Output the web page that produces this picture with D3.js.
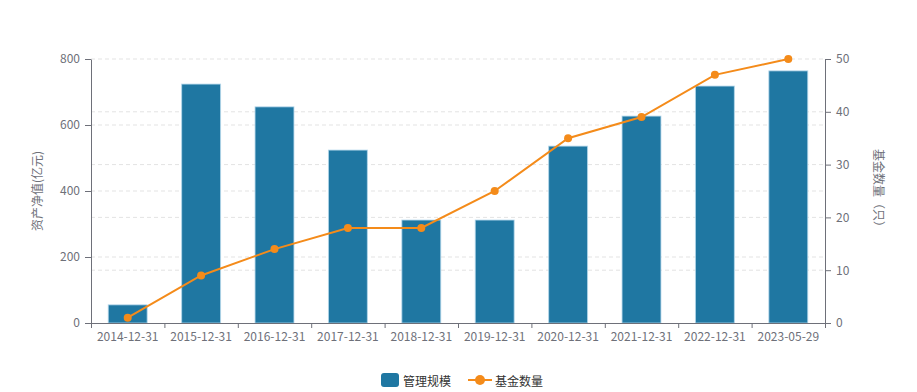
<!DOCTYPE html>
<html>
<head>
<meta charset="utf-8">
<script src="https://cdn.jsdelivr.net/npm/d3@7"></script>
<style>
body { margin: 0; background: #fff; font-family: "Noto Sans CJK SC", "Noto Sans", sans-serif; }
</style>
</head>
<body>
<div id="chart"></div>
<script>
const width = 917;
const height = 392;

const margin = { top: 59, left: 91, bottom: 69, right: 92 };

// data
const dates = ["2014-12-31", "2015-12-31", "2016-12-31", "2017-12-31", "2018-12-31",
    "2019-12-31", "2020-12-31", "2021-12-31", "2022-12-31", "2023-05-29"];
const scaleValues = [55, 724, 655, 524, 312, 312, 536, 627, 718, 764]; // 管理规模 (亿元)
const fundCounts = [1, 9, 14, 18, 18, 25, 35, 39, 47, 50]; // 基金数量 (只)
const leftTicks = [0, 200, 400, 600, 800];
const rightTicks = [0, 10, 20, 30, 40, 50];

const barColor = "#1f77a2";
const lineColor = "#f48b1a";
const axisColor = "#6e7079";

const innerW = width - margin.left - margin.right;
const innerH = height - margin.top - margin.bottom;

const svg = d3.select("#chart").append("svg").attr("width", width).attr("height", height);
const g = svg.append("g").attr("transform", `translate(${margin.left},${margin.top})`);

const xScale = d3.scaleBand().domain(dates).range([0, innerW]).paddingInner(0.47).paddingOuter(0.235);
const xBand = d3.scaleBand().domain(dates).range([0, innerW]);
const yLeft = d3.scaleLinear().domain([0, 800]).range([innerH, 0]);
const yRight = d3.scaleLinear().domain([0, 50]).range([innerH, 0]);

// dashed grid lines
g.append("g").selectAll("line").data(leftTicks.slice(1)).join("line")
    .attr("x1", 0).attr("x2", innerW)
    .attr("y1", d => yLeft(d)).attr("y2", d => yLeft(d))
    .attr("stroke", "#e3e3e3").attr("stroke-dasharray", "4,3");
g.append("g").selectAll("line").data(rightTicks.slice(1, -1)).join("line")
    .attr("x1", 0).attr("x2", innerW)
    .attr("y1", d => yRight(d)).attr("y2", d => yRight(d))
    .attr("stroke", "#e3e3e3").attr("stroke-dasharray", "4,3");

// bars
g.append("g").selectAll("rect").data(dates).join("rect")
    .attr("x", d => xScale(d))
    .attr("width", xScale.bandwidth())
    .attr("y", (d, i) => yLeft(scaleValues[i]))
    .attr("height", (d, i) => innerH - yLeft(scaleValues[i]))
    .attr("fill", barColor)
    .attr("stroke", "rgba(180,215,235,0.8)")
    .attr("stroke-width", 1);

// axes
function styleAxis(sel) {
    sel.selectAll("path, line").attr("stroke", axisColor);
    sel.selectAll("text").attr("fill", axisColor).style("font-size", "12px")
        .style("font-family", "'Noto Sans CJK SC', 'Noto Sans', sans-serif");
}

const xAxis = d3.axisBottom(xBand).tickSize(0).tickPadding(9);
const xg = g.append("g").attr("transform", `translate(0,${innerH})`).call(xAxis).call(styleAxis);
xg.select(".domain").attr("d", `M0.5,0.5H${innerW + 0.5}`);
// boundary ticks
xg.append("g").selectAll("line").data(d3.range(dates.length + 1)).join("line")
    .attr("x1", i => i * xBand.step() + 0.5).attr("x2", i => i * xBand.step() + 0.5)
    .attr("y1", 0).attr("y2", 5).attr("stroke", axisColor);

const lg = g.append("g").call(d3.axisLeft(yLeft).tickValues(leftTicks).tickSizeOuter(0).tickPadding(5)).call(styleAxis);
const rg = g.append("g").attr("transform", `translate(${innerW},0)`)
    .call(d3.axisRight(yRight).tickValues(rightTicks).tickSizeOuter(0).tickPadding(5)).call(styleAxis);

// line
const lineGen = d3.line().x((d, i) => xBand(dates[i]) + xBand.bandwidth() / 2).y(d => yRight(d));
g.append("path").datum(fundCounts)
    .attr("fill", "none").attr("stroke", lineColor).attr("stroke-width", 2)
    .attr("d", lineGen);
g.append("g").selectAll("circle").data(fundCounts).join("circle")
    .attr("cx", (d, i) => xBand(dates[i]) + xBand.bandwidth() / 2)
    .attr("cy", d => yRight(d))
    .attr("r", 4)
    .attr("fill", lineColor);

// axis titles
svg.append("text")
    .attr("transform", `translate(39,${margin.top + innerH / 2}) rotate(-90)`)
    .attr("text-anchor", "middle").attr("dominant-baseline", "middle")
    .attr("fill", axisColor).style("font-size", "12px")
    .text("资产净值(亿元)");
svg.append("text")
    .attr("transform", `translate(877,${margin.top + innerH / 2}) rotate(90)`)
    .attr("text-anchor", "middle").attr("dominant-baseline", "middle")
    .attr("fill", axisColor).style("font-size", "12px")
    .text("基金数量（只）");

// legend
const legend = svg.append("g").attr("transform", "translate(381,380)");
legend.append("rect").attr("x", 0).attr("y", -7).attr("width", 18).attr("height", 14).attr("rx", 3)
    .attr("fill", barColor);
legend.append("text").attr("x", 22).attr("y", 0).attr("dominant-baseline", "central")
    .attr("fill", "#333").style("font-size", "12px").text("管理规模");
legend.append("line").attr("x1", 87).attr("x2", 111).attr("y1", 0).attr("y2", 0)
    .attr("stroke", lineColor).attr("stroke-width", 2);
legend.append("circle").attr("cx", 99).attr("cy", 0).attr("r", 5).attr("fill", lineColor);
legend.append("text").attr("x", 114).attr("y", 0).attr("dominant-baseline", "central")
    .attr("fill", "#333").style("font-size", "12px").text("基金数量");
</script>
</body>
</html>
